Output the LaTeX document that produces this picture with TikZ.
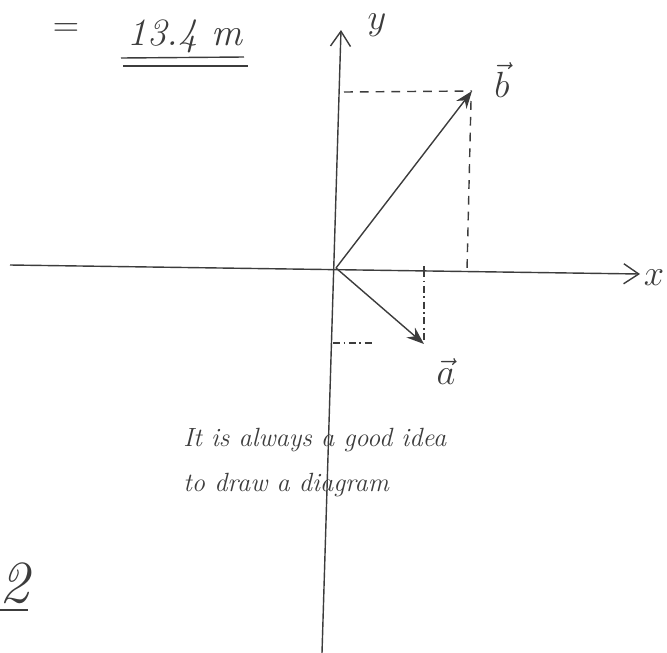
\documentclass[tikz,border=0pt]{standalone}
\usepackage{amsmath}
\usepackage{xcolor}
\usepackage{tikz}
\usetikzlibrary{arrows.meta,positioning,calc}

\definecolor{pencil}{RGB}{60,60,60}

\begin{document}
\begin{tikzpicture}[
  x=0.02cm, y=-0.02cm,
  axis/.style={pencil, thick, -{Straight Barb[length=3mm, width=4mm]}},
  vec/.style={pencil, thick, -{Stealth[length=3.5mm, width=2.6mm]}},
  guide/.style={pencil, thick, dash pattern=on 5pt off 4pt},
  thin guide/.style={pencil, semithick, dash pattern=on 4pt off 2pt on 1pt off 2pt},
  hand/.style={pencil, font=\fontsize{15}{18}\selectfont\itshape, inner sep=0pt, anchor=west},
  lbl/.style={pencil, font=\huge, inner sep=0pt}
]
\useasboundingbox (0,0) rectangle (667,653);
% axes
\coordinate (O) at (336,268);
\coordinate (xl) at (10,265);
\coordinate (xr) at (640,274);
\coordinate (yb) at (322,653);
\coordinate (yt) at (341,30);
\draw[axis] (xl) -- (xr);
\draw[axis] (yb) -- (yt);
\node[lbl] (xlab) at (654,278) {$x$};
\node[lbl] (ylab) at (377,25) {$y$};
% vector b and its components
\coordinate (bt) at (472,91);
\coordinate (by) at (344,92);
\coordinate (bx) at (467,270);
\draw[vec] (O) -- (bt);
\draw[guide] (by) -- (bt);
\draw[guide] ($(bt)+(-1,10)$) -- (bx);
\node[lbl] (blab) at (502,80) {$\vec{b}$};
% vector a and its components
\coordinate (at) at (424,344);
\coordinate (ax) at (424,270);
\coordinate (ay) at (333,343);
\draw[vec] (O) -- (at);
\draw[pencil, thick] ($(ax)+(0,-4)$) -- ($(ax)+(0,4)$);
\draw[thin guide] (ax) -- ($(at)+(0,-4)$);
\draw[thin guide] (ay) -- ($(ay)+(40,0)$);
\node[lbl] (alab) at (446,372) {$\vec{a}$};
% result at top left
\node[pencil, font=\fontsize{20}{24}\selectfont] (eq) at (66,30) {$=$};
\node[pencil, font=\fontsize{22}{26}\selectfont\itshape, inner sep=0pt] (res) at (185,36) {13.4 m};
\draw[pencil, thick] (121,58) -- (244,57);
\draw[pencil, thick] (123,66) -- (248,66);
% note
\node[hand] (note1) at (183,440) {It is always a good idea};
\node[hand] (note2) at (183,485) {to draw a diagram};
% part number
\node[pencil, font=\fontsize{34}{40}\selectfont\itshape, inner sep=0pt] (part) at (14,583) {2};
\draw[pencil, thick] (0,610) -- (28,610);
\end{tikzpicture}
\end{document}
